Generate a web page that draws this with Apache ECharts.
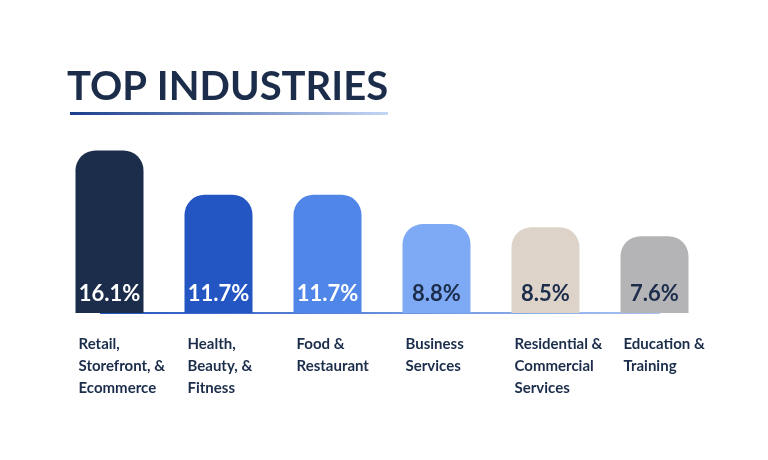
<!DOCTYPE html>
<html>
<head>
<meta charset="utf-8">
<script src="https://cdn.jsdelivr.net/npm/echarts@6/dist/echarts.min.js"></script>
<style>
  html, body { margin: 0; padding: 0; background: #fff; }
  #chart { width: 768px; height: 460px; }
</style>
</head>
<body>
<div id="chart"></div>
<script>
const categories = ['Retail,\nStorefront, &\nEcommerce', 'Health,\nBeauty, &\nFitness', 'Food &\nRestaurant', 'Business\nServices', 'Residential &\nCommercial\nServices', 'Education &\nTraining'];
const shares = [16.1, 11.7, 11.7, 8.8, 8.5, 7.6];
const barColors = ['#1b2d4b', '#2356c2', '#4f86e8', '#7ea9f4', '#ddd3c8', '#b4b4b6'];
const labelColors = ['#ffffff', '#ffffff', '#ffffff', '#1b2d4b', '#1b2d4b', '#1b2d4b'];

const chart = echarts.init(document.getElementById('chart'));
const font = 'Lato, "Open Sans", sans-serif';

chart.setOption({
  animation: false,
  grid: [
    { left: 55, width: 654, top: 111, height: 202 },
    { left: 24, width: 654, top: 111, height: 202 }
  ],
  xAxis: [
    { type: 'category', gridIndex: 0, data: categories,
      axisLine: { show: false }, axisTick: { show: false }, axisLabel: { show: false } },
    { type: 'category', gridIndex: 1, data: categories,
      axisLine: { show: false }, axisTick: { show: false },
      axisLabel: { interval: 0, align: 'left', verticalAlign: 'top', margin: 20, fontFamily: font, fontSize: 15,
        fontWeight: 'bold', color: '#1b2d4b', lineHeight: 22 } }
  ],
  yAxis: [
    { type: 'value', gridIndex: 0, min: 0, max: 20, show: false, splitLine: { show: false } },
    { type: 'value', gridIndex: 1, min: 0, max: 20, show: false, splitLine: { show: false } }
  ],
  graphic: [
    { type: 'text', left: 67, top: 67, style: { text: 'TOP INDUSTRIES', fontFamily: font, fontSize: 40,
      fontWeight: 'bold', fill: '#1b2d4b' } },
    { type: 'rect', shape: { x: 70, y: 112, width: 318, height: 3 },
      style: { fill: new echarts.graphic.LinearGradient(0, 0, 1, 0, [
        { offset: 0, color: '#1b3f8c' }, { offset: 1, color: '#c5d6f5' }]) } },
    { type: 'rect', z: -1, shape: { x: 100, y: 312, width: 560, height: 2 },
      style: { fill: new echarts.graphic.LinearGradient(0, 0, 1, 0, [
        { offset: 0, color: '#2356c2' }, { offset: 1, color: '#a9c4f5' }]) } }
  ],
  series: [{
    type: 'bar',
    xAxisIndex: 0, yAxisIndex: 0,
    barWidth: 68,
    data: shares.map((v, i) => ({
      value: v,
      itemStyle: { color: barColors[i], borderRadius: [20, 20, 0, 0] },
      label: { color: labelColors[i] }
    })),
    label: { show: true, position: 'insideBottom', distance: 8, formatter: '{c}%',
      fontFamily: font, fontSize: 22, fontWeight: 'bold' }
  }]
});
</script>
</body>
</html>
